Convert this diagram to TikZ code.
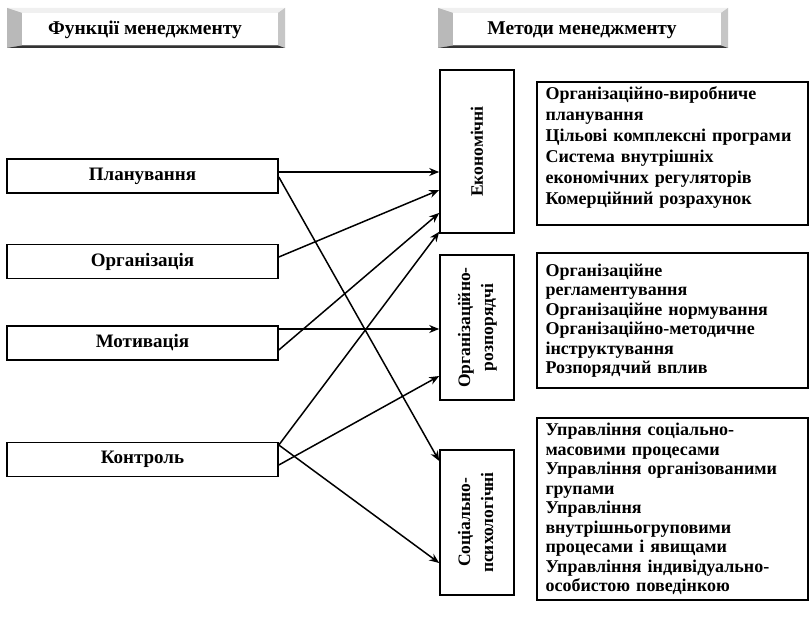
\documentclass[tikz,border=0pt]{standalone}
\usepackage{fontspec}
\setmainfont{Liberation Serif}
\usetikzlibrary{arrows.meta}
\newcommand\bevelbox[4]{%
  \fill[gray!35] (#1,#2) rectangle (#3,#4);
  \fill[gray!12] (#1,#2) -- (#3,#2) -- (#3-7,#2+5) -- (#1+15,#2+5) -- cycle;
  \fill[gray!55] (#1,#2) -- (#1+15,#2+5) -- (#1+15,#4-2.5) -- (#1,#4) -- cycle;
  \fill[gray!45] (#3,#2) -- (#3,#4) -- (#3-7,#4-2.5) -- (#3-7,#2+5) -- cycle;
  \fill[black!80] (#1,#4) -- (#1+15,#4-2.5) -- (#3-7,#4-2.5) -- (#3,#4) -- cycle;
  \fill[white] (#1+15,#2+5) rectangle (#3-7,#4-2.5);
}
\begin{document}
\begin{tikzpicture}[x=1pt,y=-1pt,
  fbox/.style={draw, line width=1.6pt, rectangle, inner sep=0pt, minimum width=271pt, minimum height=34pt, font=\fontsize{19}{21}\selectfont\bfseries},
  mbox/.style={draw, line width=1.6pt, rectangle, inner sep=0pt, minimum width=74pt, font=\fontsize{17.5}{23}\selectfont\bfseries},
  tbox/.style={draw, line width=1.6pt, rectangle, inner xsep=8.5pt, inner ysep=0pt, text width=254pt, minimum width=271pt, align=left, font=\fontsize{18}{19.5}\selectfont\bfseries},
  arr/.style={line width=1.5pt, -{Stealth[length=10pt,width=8pt]}},
  hdr/.style={font=\fontsize{19.5}{21}\selectfont\bfseries, inner sep=0pt}
]
\useasboundingbox (0,0) rectangle (810,618);
\fill[white] (0,0) rectangle (810,618);

% headers
\bevelbox{7}{8}{285}{48}
\node[hdr] (h1) at (145,30) {Функції менеджменту};
\bevelbox{438}{8}{728}{48}
\node[hdr] (h2) at (582,30) {Методи менеджменту};

% functions
\node[fbox] (plan) at (142.5,176) {Планування};
\node[fbox] (org) at (142.5,261.5) {Організація};
\node[fbox] (mot) at (142.5,343) {Мотивація};
\node[fbox] (kon) at (142.5,459.5) {Контроль};

% methods
\node[mbox, minimum height=163pt] (eco) at (477,151.5) {\rotatebox{90}{Економічні}\hspace{20pt}};
\node[mbox, minimum height=145pt] (orgr) at (477,327.5) {\rotatebox{90}{\begin{tabular}{@{}c@{}}Організаційно-\\розпорядчі\end{tabular}}};
\node[mbox, minimum height=145pt] (soc) at (477,522.5) {\rotatebox{90}{\begin{tabular}{@{}c@{}}Соціально-\\психологічні\end{tabular}}};

% descriptions
\node[tbox, minimum height=143pt, font=\fontsize{18}{21}\selectfont\bfseries] (t1) at (672.5,153.5) {Організаційно-виробниче\\планування\\Цільові комплексні програми\\Система внутрішніх\\економічних регуляторів\\Комерційний розрахунок\\[-6pt]\mbox{}};
\node[tbox, minimum height=135pt] (t2) at (672.5,320.5) {Організаційне\\регламентування\\Організаційне нормування\\Організаційно-методичне\\інструктування\\Розпорядчий вплив};
\node[tbox, minimum height=182pt] (t3) at (672.5,509) {Управління соціально-\\масовими процесами\\\makebox[248pt][s]{Управління організованими}\\групами\\Управління\\внутрішньогруповими\\процесами і явищами\\Управління індивідуально-\\особистою поведінкою};

% arrows
\draw[arr] ([yshift=4pt]plan.east) -- ([yshift=-20.5pt]eco.west);
\draw[arr] ([yshift=-1pt]plan.east) -- ([yshift=61.5pt]soc.west);
\draw[arr] ([yshift=4.5pt]org.east) -- ([yshift=-38.5pt]eco.west);
\draw[arr] ([yshift=-7pt]mot.east) -- ([yshift=-61.5pt]eco.west);
\draw[arr] ([yshift=14pt]mot.east) -- ([yshift=-1.5pt]orgr.west);
\draw[arr] ([yshift=14.5pt]kon.east) -- ([yshift=2pt]eco.south west);
\draw[arr] ([yshift=-5.5pt]kon.east) -- ([yshift=-48.5pt]orgr.west);
\draw[arr] ([yshift=14.5pt]kon.east) -- ([yshift=-40.5pt]soc.west);
\end{tikzpicture}
\end{document}
